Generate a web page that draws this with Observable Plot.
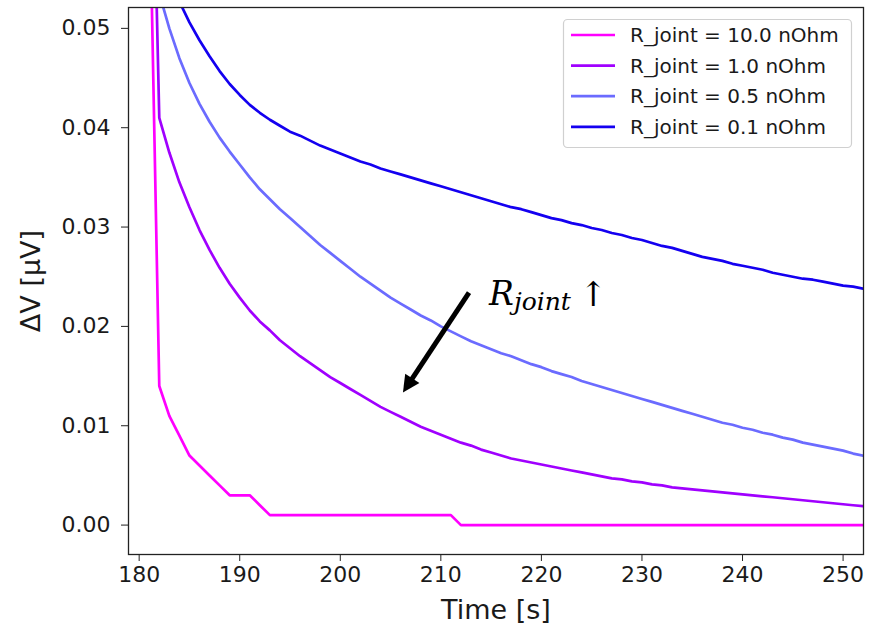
<!DOCTYPE html>
<html><head><meta charset="utf-8">
<script src="https://cdn.jsdelivr.net/npm/d3@7"></script>
<script src="https://cdn.jsdelivr.net/npm/@observablehq/plot@0.6"></script>
<style>
body{margin:0;background:#fff;}
#chart svg{font-family:"DejaVu Sans",sans-serif;}
</style>
</head><body><div id="chart"></div>
<script>
// ---- data ----
const seriesLabels = ["R_joint = 10.0 nOhm", "R_joint = 1.0 nOhm", "R_joint = 0.5 nOhm", "R_joint = 0.1 nOhm"];
const seriesColors = ["#ff00ff", "#a000ff", "#6b6bff", "#1400f0"];
const seriesStart = [181, 181, 181, 182]; // first time [s] of each series, 1 s steps
const dv10 = [0.066, 0.014, 0.011, 0.009, 0.007, 0.006, 0.005, 0.004, 0.003, 0.003, 0.003, 0.002,
  0.001, 0.001, 0.001, 0.001, 0.001, 0.001, 0.001, 0.001, 0.001, 0.001, 0.001, 0.001, 0.001, 0.001, 0.001, 0.001, 0.001, 0.001, 0.001,
  0, 0, 0, 0, 0, 0, 0, 0, 0, 0, 0, 0, 0, 0, 0, 0, 0, 0, 0, 0, 0, 0, 0, 0, 0, 0, 0, 0, 0, 0, 0, 0, 0, 0, 0, 0, 0, 0, 0, 0, 0];
const dv1 = [0.085, 0.041, 0.0375, 0.0345, 0.0320, 0.0297, 0.0277, 0.0259, 0.0243, 0.0229, 0.0216, 0.0205,
  0.0196, 0.0186, 0.0178, 0.0170, 0.0163, 0.0156, 0.0149, 0.0143, 0.0137, 0.0131, 0.0125, 0.0119, 0.0114,
  0.0109, 0.0104, 0.0099, 0.0095, 0.0091, 0.0087, 0.0083, 0.0080, 0.0076, 0.0073, 0.0070, 0.0067, 0.0065,
  0.0063, 0.0061, 0.0059, 0.0057, 0.0055, 0.0053, 0.0051, 0.0049, 0.0047, 0.0046, 0.0044, 0.0043, 0.0041,
  0.0040, 0.0038, 0.0037, 0.0036, 0.0035, 0.0034, 0.0033, 0.0032, 0.0031, 0.0030, 0.0029, 0.0028, 0.0027,
  0.0026, 0.0025, 0.0024, 0.0023, 0.0022, 0.0021, 0.0020, 0.0019];
const dv05 = [0.060, 0.0535, 0.0500, 0.0470, 0.0445, 0.0424, 0.0406, 0.0390, 0.0376, 0.0363, 0.0350, 0.0338,
  0.0328, 0.0318, 0.0309, 0.0300, 0.0291, 0.0282, 0.0274, 0.0266, 0.0258, 0.0250, 0.0243, 0.0236, 0.0229,
  0.0223, 0.0217, 0.0211, 0.0206, 0.0200, 0.0195, 0.0190, 0.0185, 0.0181, 0.0177, 0.0173, 0.0170, 0.0166,
  0.0162, 0.0159, 0.0155, 0.0152, 0.0149, 0.0145, 0.0142, 0.0139, 0.0136, 0.0133, 0.0130, 0.0127, 0.0124,
  0.0121, 0.0118, 0.0115, 0.0112, 0.0109, 0.0106, 0.0103, 0.0101, 0.0098, 0.0096, 0.0093, 0.0091, 0.0088,
  0.0086, 0.0083, 0.0081, 0.0079, 0.0077, 0.0075, 0.0072, 0.0070];
const dv01 = [0.060, 0.0555, 0.0527, 0.0506, 0.0488, 0.0472, 0.0457, 0.0444, 0.0433, 0.0423, 0.0415,
  0.0408, 0.0402, 0.0396, 0.0392, 0.0387, 0.0382, 0.0378, 0.0374, 0.0370, 0.0366, 0.0363, 0.0359, 0.0356,
  0.0353, 0.0350, 0.0347, 0.0344, 0.0341, 0.0338, 0.0335, 0.0332, 0.0329, 0.0326, 0.0323, 0.0320, 0.0318,
  0.0315, 0.0312, 0.0309, 0.0307, 0.0304, 0.0302, 0.0299, 0.0297, 0.0294, 0.0292, 0.0289, 0.0287, 0.0284,
  0.0281, 0.0279, 0.0276, 0.0273, 0.0270, 0.0268, 0.0266, 0.0263, 0.0261, 0.0259, 0.0257, 0.0254, 0.0252,
  0.0250, 0.0248, 0.0247, 0.0245, 0.0243, 0.0241, 0.0240, 0.0238];
const xTicks = [180, 190, 200, 210, 220, 230, 240, 250];
const yTicks = [0.00, 0.01, 0.02, 0.03, 0.04, 0.05];
const xLabel = "Time [s]";
const yLabel = "ΔV [μV]";
// annotation: arrow tail/head and label anchor, in data units
const arrowTail = {time: 212.85, dv: 0.02336};
const arrowHead = {time: 206.28, dv: 0.01329};
const noteAnchor = {time: 214.85, dv: 0.0221};

// ---- build table ----
const rows = [];
[dv10, dv1, dv05, dv01].forEach((vals, i) =>
  vals.forEach((v, j) => rows.push({series: seriesLabels[i], time: seriesStart[i] + j, dv: v})));

const chart = Plot.plot({
  width: 876, height: 627,
  marginLeft: 128, marginRight: 13, marginTop: 7, marginBottom: 73,
  style: {fontFamily: "DejaVu Sans", background: "white", color: "#1a1a1a"},
  x: {domain: [178.94, 252.03]},
  y: {domain: [-0.00296, 0.0521]},
  color: {domain: seriesLabels, range: seriesColors},
  marks: [
    Plot.line(rows, {x: "time", y: "dv", z: "series", stroke: "series", strokeWidth: 2.7, clip: true, strokeLinejoin: "round"}),
    Plot.frame({stroke: "#222", strokeWidth: 1.3}),
    Plot.axisX({ticks: xTicks, tickFormat: d => String(d), tickSize: 7, tickPadding: 5, fontSize: 22, label: null, stroke: "#222"}),
    Plot.axisY({ticks: yTicks, tickFormat: d3.format(".2f"), tickSize: 7, tickPadding: 11, fontSize: 22, label: null, stroke: "#222"}),
    Plot.text([xLabel], {frameAnchor: "bottom", dy: 56, fontSize: 27, lineAnchor: "middle", fill: "#1a1a1a"}),
    Plot.text([yLabel], {frameAnchor: "left", dx: -97, rotate: -90, fontSize: 27, lineAnchor: "middle", textAnchor: "middle", fill: "#1a1a1a"})
  ]
});
document.getElementById("chart").appendChild(chart);

const sx = chart.scale("x"), sy = chart.scale("y"), sc = chart.scale("color");
const svg = d3.select(chart);

// ---- arrow annotation ----
const x0 = sx.apply(arrowTail.time), y0 = sy.apply(arrowTail.dv);
const x1 = sx.apply(arrowHead.time), y1 = sy.apply(arrowHead.dv);
const len = Math.hypot(x1 - x0, y1 - y0), ux = (x1 - x0) / len, uy = (y1 - y0) / len;
const headL = 17, headW = 17;
const bx = x1 - ux * headL, by = y1 - uy * headL;
svg.append("line").attr("x1", x0).attr("y1", y0).attr("x2", bx + ux * 2).attr("y2", by + uy * 2)
  .attr("stroke", "black").attr("stroke-width", 5);
svg.append("path").attr("d", `M${x1},${y1}L${bx - uy * headW / 2},${by + ux * headW / 2}L${bx + uy * headW / 2},${by - ux * headW / 2}Z`)
  .attr("fill", "black");
const note = svg.append("text").attr("x", sx.apply(noteAnchor.time)).attr("y", sy.apply(noteAnchor.dv))
  .attr("font-family", "DejaVu Serif").attr("fill", "black").attr("text-anchor", "start");
note.append("tspan").attr("font-style", "italic").attr("font-size", 33).text("R");
note.append("tspan").attr("font-style", "italic").attr("font-size", 25).attr("dy", 5).text("joint");
note.append("tspan").attr("font-size", 34).attr("dy", -4).attr("dx", 8).text("↑");

// ---- legend ----
const lg = svg.append("g").attr("text-anchor", "start");
lg.append("rect").attr("x", 563.5).attr("y", 19.5).attr("width", 288).attr("height", 128).attr("rx", 4)
  .attr("fill", "white").attr("fill-opacity", 0.8).attr("stroke", "#d0d0d0").attr("stroke-width", 1.2);
seriesLabels.forEach((s, i) => {
  const yy = 35 + i * 30.6;
  lg.append("line").attr("x1", 571).attr("x2", 615).attr("y1", yy).attr("y2", yy)
    .attr("stroke", sc.apply(s)).attr("stroke-width", 2.7);
  lg.append("text").attr("x", 630).attr("y", yy).attr("dy", "0.36em").attr("font-size", 20)
    .attr("fill", "#1a1a1a").attr("font-family", "DejaVu Sans").text(s);
});
</script>
</body></html>
